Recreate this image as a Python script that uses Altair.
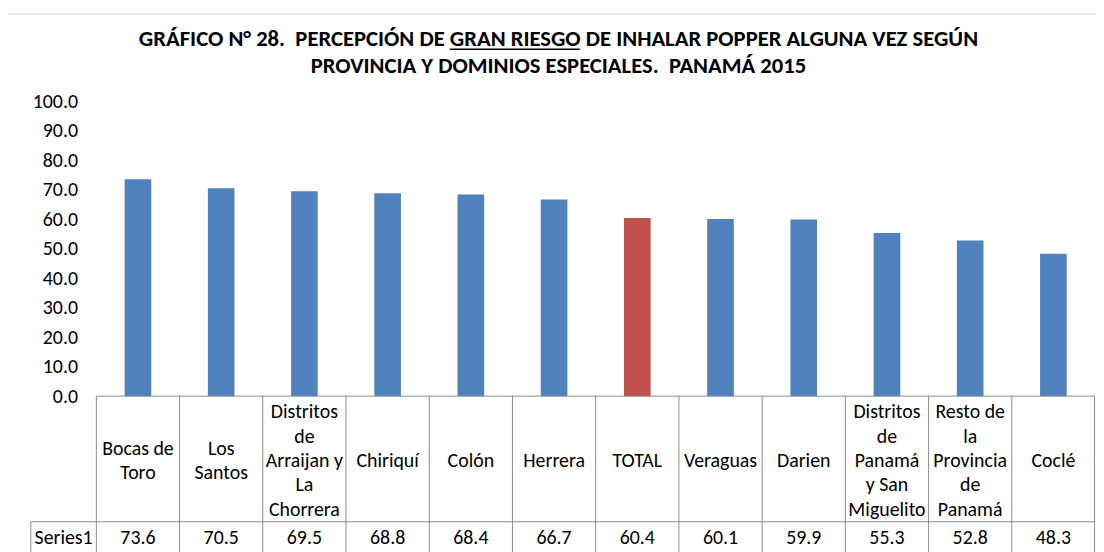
import altair as alt
import pandas as pd

# ---- data ----
categories = ["Bocas de Toro", "Los Santos", "Distritos de Arraijan y La Chorrera",
              "Chiriquí", "Colón", "Herrera", "TOTAL", "Veraguas", "Darien",
              "Distritos de Panamá y San Miguelito", "Resto de la Provincia de Panamá", "Coclé"]
header_labels = ["Bocas de\nToro", "Los\nSantos", "Distritos\nde\nArraijan y\nLa\nChorrera",
                 "Chiriquí", "Colón", "Herrera", "TOTAL", "Veraguas", "Darien",
                 "Distritos\nde\nPanamá\ny San\nMiguelito", "Resto de\nla\nProvincia\nde\nPanamá", "Coclé"]
values = [73.6, 70.5, 69.5, 68.8, 68.4, 66.7, 60.4, 60.1, 59.9, 55.3, 52.8, 48.3]
series_name = "Series1"
highlight = "TOTAL"
y_ticks = [0, 10, 20, 30, 40, 50, 60, 70, 80, 90, 100]
title_line1 = "GRÁFICO N° 28.\u00a0 PERCEPCIÓN DE GRAN RIESGO DE INHALAR POPPER ALGUNA VEZ SEGÚN"
title_line2 = "PROVINCIA Y DOMINIOS ESPECIALES.\u00a0 PANAMÁ 2015"

# ---- styling ----
FONT = "Carlito, Calibri, Lato, sans-serif"
W, H = 1006, 297
LINE = "#8c8c8c"
FS = 20
LH = 24.5
TFS = 22.8

df = pd.DataFrame({"cat": categories, "label": header_labels, "value": values})
df["nlines"] = [s.count("\n") + 1 for s in header_labels]
one = pd.DataFrame({"k": [0]})

xscale = alt.Scale(type="band", paddingInner=0, paddingOuter=0)
xenc = alt.X("cat:N", sort=categories, axis=None, scale=xscale)

base = alt.Chart(df)

bars = base.mark_bar(width=alt.RelativeBandSize(0.32)).encode(
    x=xenc,
    y=alt.Y("value:Q", scale=alt.Scale(domain=[0, 100], nice=False),
            axis=alt.Axis(values=y_ticks, format=".1f", grid=False, domain=False, ticks=False,
                          labelPadding=19, labelFontSize=FS, labelColor="black",
                          labelFont=FONT, title=None)),
    color=alt.when(alt.datum.cat == highlight).then(alt.value("#C0504D")).otherwise(alt.value("#4F81BD")),
)

# table vertical lines at column boundaries
vlines = base.mark_rule(color=LINE, strokeWidth=1).encode(
    x=alt.X("cat:N", sort=categories, axis=None, scale=xscale, bandPosition=0),
    y=alt.value(H), y2=alt.value(H + 260),
)
vlast = alt.Chart(one).mark_rule(color=LINE, strokeWidth=1).encode(
    x=alt.value(W - 0.5), y=alt.value(H), y2=alt.value(H + 260))
htop = alt.Chart(one).mark_rule(color=LINE, strokeWidth=1).encode(
    x=alt.value(0), x2=alt.value(W), y=alt.value(H))
hmid = alt.Chart(one).mark_rule(color=LINE, strokeWidth=1).encode(
    x=alt.value(-66), x2=alt.value(W), y=alt.value(H + 126.5))
vleft = alt.Chart(one).mark_rule(color=LINE, strokeWidth=1).encode(
    x=alt.value(-66), y=alt.value(H + 126.5), y2=alt.value(H + 260))

# header labels: one layer per line count so each block is vertically centred in the row
header_layers = []
for n in sorted(set(df["nlines"])):
    header_layers.append(
        base.transform_filter(alt.datum.nlines == int(n)).mark_text(
            font=FONT, fontSize=FS, lineBreak="\n", lineHeight=LH,
            baseline="middle", align="center", color="black").encode(
            x=xenc, y=alt.value(H + 65.5 - (int(n) - 1) * LH / 2), text="label:N")
    )

value_text = base.mark_text(font=FONT, fontSize=FS, baseline="middle", align="center",
                            color="black").encode(
    x=xenc, y=alt.value(H + 143), text=alt.Text("value:Q", format=".1f"))
series_text = alt.Chart(pd.DataFrame({"s": [series_name]})).mark_text(
    font=FONT, fontSize=FS, baseline="middle", align="center", color="black").encode(
    x=alt.value(-33), y=alt.value(H + 143), text="s:N")

t1 = alt.Chart(pd.DataFrame({"t": [title_line1]})).mark_text(
    font=FONT, fontSize=TFS, fontWeight="bold", align="center", baseline="alphabetic",
    color="black").encode(x=alt.value(465.5), y=alt.value(-56), text="t:N")
t2 = alt.Chart(pd.DataFrame({"t": [title_line2]})).mark_text(
    font=FONT, fontSize=TFS, fontWeight="bold", align="center", baseline="alphabetic",
    color="black").encode(x=alt.value(465.5), y=alt.value(-29), text="t:N")
underline = alt.Chart(one).mark_rule(color="black", strokeWidth=1.4).encode(
    x=alt.value(356), x2=alt.value(487), y=alt.value(-52.5))

border = alt.Chart(one).mark_rect(fill="transparent", stroke="#d9d9d9", strokeWidth=1,
                                  cornerRadius=4).encode(
    x=alt.value(-90), x2=alt.value(W + 30), y=alt.value(-88), y2=alt.value(H + 300))

chart = alt.layer(
    border, bars, vlines, vlast, htop, hmid, vleft, *header_layers, value_text, series_text,
    t1, t2, underline,
).properties(
    width=W, height=H,
    autosize=alt.AutoSizeParams(type="none"),
    padding={"left": 89, "top": 92, "right": 1, "bottom": 155},
).configure_view(stroke=None)

chart.save("out.html", embed_options={"renderer": "svg", "actions": False})
